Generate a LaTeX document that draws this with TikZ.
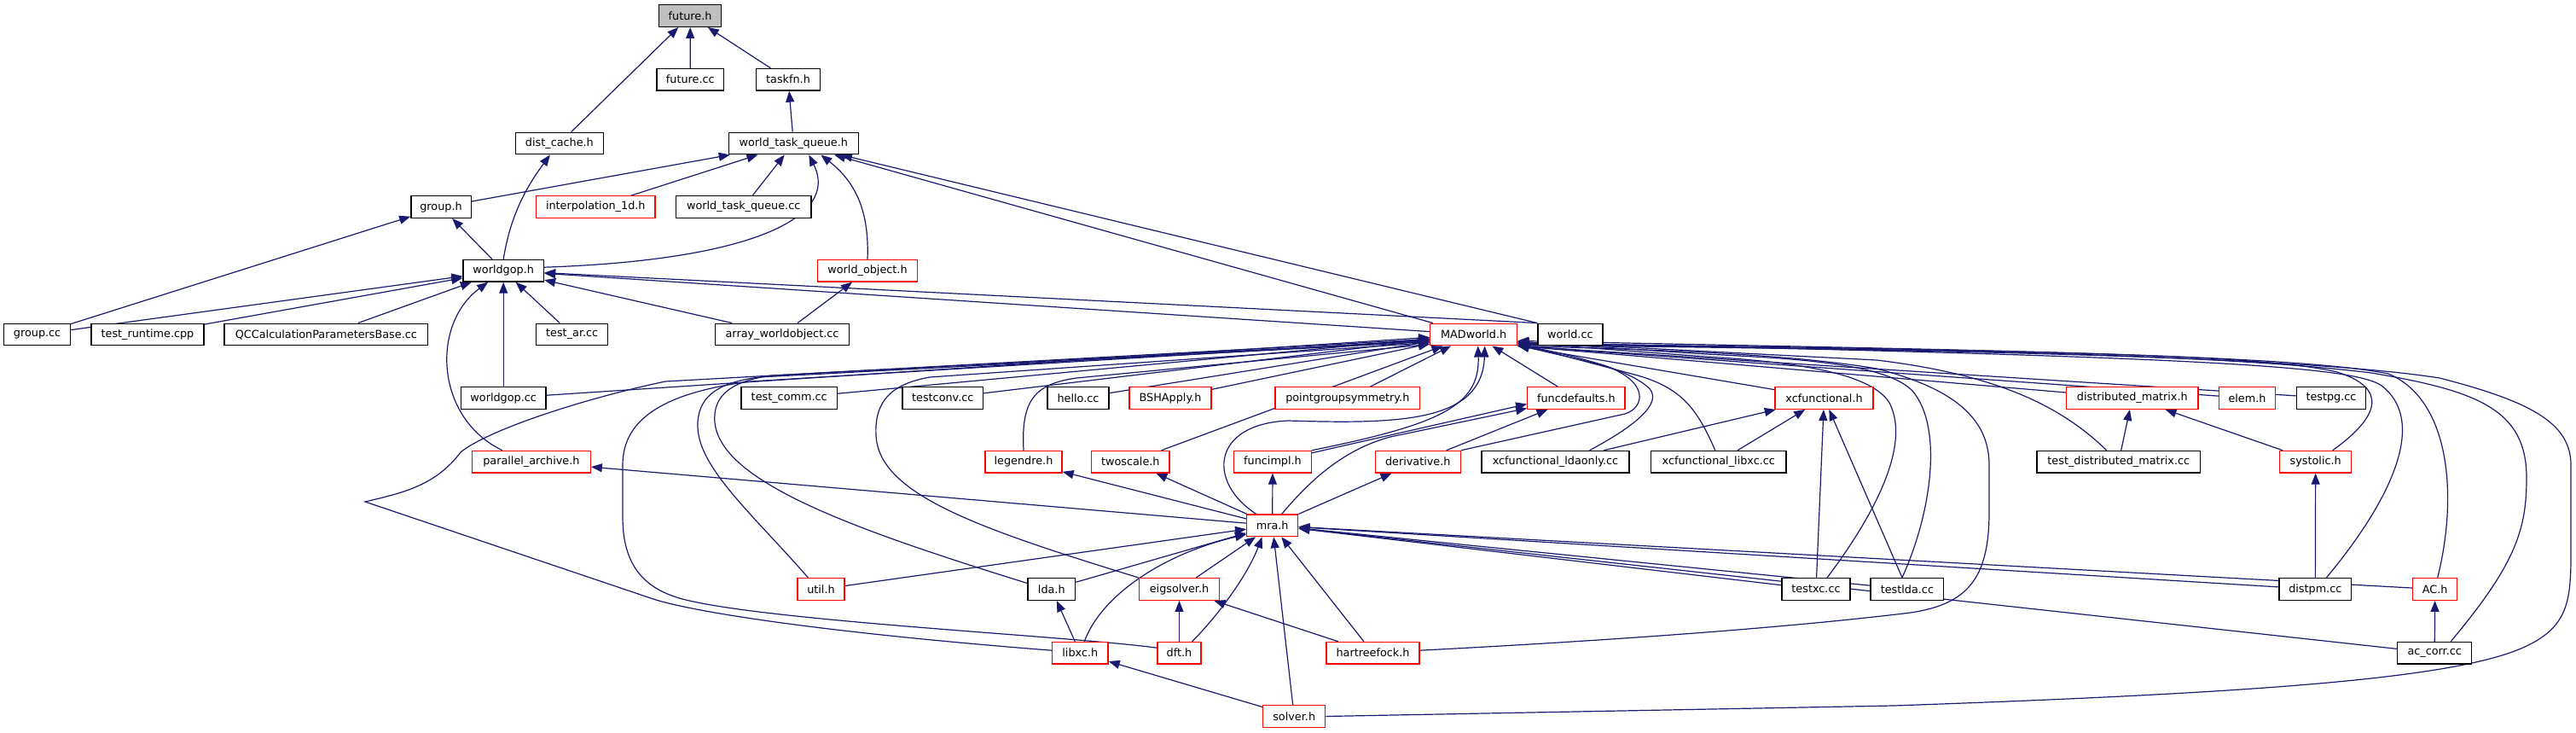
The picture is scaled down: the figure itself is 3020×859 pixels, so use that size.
\documentclass[tikz,border=0pt]{standalone}
\usepackage{fontspec}
\setmainfont{DejaVu Sans}
\usetikzlibrary{arrows.meta,backgrounds}
\definecolor{edgec}{HTML}{191970}
\definecolor{fgray}{HTML}{BFBFBF}
\newcommand\mynode[6]{\node[#1,minimum width=#5pt] (#2) at (#3,#4) {#6};}
\begin{document}
\begin{tikzpicture}[x=1pt,y=-1pt,
 nb/.style={draw=black,line width=1.3pt,fill=white,minimum height=25.6pt,inner sep=0pt,font=\fontsize{12.8}{14}\selectfont},
 nr/.style={nb,draw=red},
 edg/.style={draw=edgec,line width=1.2pt,-{Triangle[length=13pt,width=10pt]}}]
\useasboundingbox (0,0) rectangle (3020,859);
% row 1-5
\mynode{nb,fill=fgray}{fh}{809.1}{18.5}{73.2}{future.h}
\mynode{nb}{fcc}{809.3}{93.2}{78.6}{future.cc}
\mynode{nb}{taskfn}{924}{93.2}{75}{taskfn.h}
\mynode{nb}{distc}{655.9}{168}{102.7}{dist\_cache.h}
\mynode{nb}{wtq}{930.3}{168}{151.7}{world\_task\_queue.h}
\mynode{nb}{grouph}{517}{242.5}{70.3}{group.h}
\mynode{nr}{interp}{698.3}{242.5}{139.3}{interpolation\_1d.h}
\mynode{nb}{wtqcc}{871.7}{242.5}{158.5}{world\_task\_queue.cc}
\mynode{nb}{wgop}{590.2}{317.2}{94.5}{worldgop.h}
\mynode{nr}{wobj}{1017}{317.2}{116.8}{world\_object.h}
% row 6
\mynode{nb}{groupcc}{43.6}{392}{77.6}{group.cc}
\mynode{nb}{trun}{173}{392}{132}{test\_runtime.cpp}
\mynode{nb}{qcc}{382.4}{392}{238.7}{QCCalculationParametersBase.cc}
\mynode{nb}{testar}{670.7}{392}{84}{test\_ar.cc}
\mynode{nb}{awo}{917}{392}{157}{array\_worldobject.cc}
\mynode{nr}{mad}{1727.7}{392}{101.8}{MADworld.h}
\mynode{nb}{worldcc}{1840.9}{392}{76}{world.cc}
% row 7
\mynode{nb}{wgopcc}{590.2}{466.5}{99.3}{worldgop.cc}
\mynode{nb}{tcomm}{925.2}{466.5}{112.4}{test\_comm.cc}
\mynode{nb}{tconv}{1105.3}{466.5}{94.5}{testconv.cc}
\mynode{nb}{hello}{1264}{466.5}{72}{hello.cc}
\mynode{nr}{bsh}{1372}{466.5}{96}{BSHApply.h}
\mynode{nr}{pgs}{1579.8}{466.5}{169.5}{pointgroupsymmetry.h}
\mynode{nr}{fdef}{1847.9}{466.5}{114.3}{funcdefaults.h}
\mynode{nr}{xcf}{2138.5}{466.5}{115}{xcfunctional.h}
\mynode{nr}{dmat}{2499.8}{466.5}{154.4}{distributed\_matrix.h}
\mynode{nr}{elem}{2634.5}{466.5}{65.8}{elem.h}
\mynode{nb}{testpg}{2733}{466.5}{81.2}{testpg.cc}
% row 8
\mynode{nr}{parch}{622.9}{541.2}{138.6}{parallel\_archive.h}
\mynode{nr}{legendre}{1200}{541.2}{90}{legendre.h}
\mynode{nr}{twoscale}{1325.3}{541.2}{91.5}{twoscale.h}
\mynode{nr}{fimpl}{1492}{541.2}{90.6}{funcimpl.h}
\mynode{nr}{deriv}{1662.3}{541.2}{100}{derivative.h}
\mynode{nb}{xclda}{1823.5}{541.2}{173}{xcfunctional\_ldaonly.cc}
\mynode{nb}{xclibxc}{2014.8}{541.2}{158.4}{xcfunctional\_libxc.cc}
\mynode{nb}{tdm}{2483.8}{541.2}{191.8}{test\_distributed\_matrix.cc}
\mynode{nr}{systolic}{2714.7}{541.2}{84}{systolic.h}
% row 9
\mynode{nr}{mra}{1491.7}{615.8}{60}{mra.h}
% row 10
\mynode{nr}{util}{962.5}{690.5}{55}{util.h}
\mynode{nb}{lda}{1232.8}{690.5}{55.6}{lda.h}
\mynode{nr}{eig}{1382.5}{690.5}{93.6}{eigsolver.h}
\mynode{nb}{testxc}{2129}{690.5}{80}{testxc.cc}
\mynode{nb}{testlda}{2235.9}{690.5}{85.7}{testlda.cc}
\mynode{nb}{distpm}{2714.3}{690.5}{84.7}{distpm.cc}
\mynode{nr}{ach}{2854.7}{690.5}{52}{AC.h}
% row 11
\mynode{nr}{libxc}{1266.3}{765.2}{65.5}{libxc.h}
\mynode{nr}{dft}{1382.5}{765.2}{51}{dft.h}
\mynode{nr}{hf}{1609.5}{765.2}{109}{hartreefock.h}
\mynode{nb}{accorr}{2854.2}{765.2}{86.8}{ac\_corr.cc}
% row 12
\mynode{nr}{solver}{1517.2}{839.5}{73}{solver.h}

\begin{pgfonlayer}{background}
\fill[white] (0,0) rectangle (3020,859);
% top part
\draw[edg] (distc) -- (fh);
\draw[edg] (fcc) -- (fh);
\draw[edg] (taskfn) -- (fh);
\draw[edg] (wtq) -- (taskfn);
\draw[edg] (wgop.north) .. controls (598,255) and (615,222) .. ([xshift=-11pt]distc.south);
\draw[edg] (grouph) -- (wtq);
\draw[edg] (interp) -- (wtq);
\draw[edg] (wtqcc) -- (wtq);
\draw[edg] ([yshift=4pt]wgop.east) .. controls (880,305) and (985,255) .. ([xshift=18pt]wtq.south);
\draw[edg] (wobj.north) .. controls (1019,250) and (1005,215) .. ([xshift=32pt]wtq.south);
\draw[edg] (mad) -- (wtq);
\draw[edg] (worldcc.north west) -- (wtq);
\draw[edg] (wgop) -- (grouph);
\draw[edg] (groupcc) -- (grouph);
\draw[edg] (groupcc) -- (wgop);
\draw[edg] (trun) -- (wgop);
\draw[edg] (qcc) -- (wgop);
\draw[edg] (wgopcc) -- (wgop);
\draw[edg] (testar) -- (wgop);
\draw[edg] (awo) -- (wgop);
\draw[edg] (mad) -- (wgop);
\draw[edg] (worldcc.north west) -- (wgop);
\draw[edg] ([xshift=-34pt]parch.north) .. controls (510,490) and (505,380) .. ([xshift=-18pt]wgop.south);
\draw[edg] (awo) -- (wobj);
% into MADworld from the left
\draw[edg] (wgopcc) -- (mad);
\draw[edg] (tcomm) -- (mad);
\draw[edg] (tconv) -- (mad);
\draw[edg] (hello) -- (mad);
\draw[edg] (bsh) -- (mad);
\draw[edg] (twoscale) -- (mad);
\draw[edg] (pgs) -- (mad);
\draw[edg] (fdef) -- (mad);
\draw[edg] (legendre.north) .. controls (1197,470) and (1212,450) .. (1262,443) -- ([yshift=2pt]mad.south west);
\draw[edg] ([xshift=-15pt]util.north) .. controls (880,600) and (815,545) .. (818,495) .. controls (820,462) and (845,448) .. (890,442) -- ([yshift=5pt]mad.south west);
\draw[edg] ([yshift=7pt]lda.west) .. controls (1000,620) and (845,565) .. (838,495) .. controls (835,462) and (860,446) .. (905,440) -- ([yshift=6pt]mad.south west);
\draw[edg] (eig.north west) .. controls (1150,620) and (1030,580) .. (1027,510) .. controls (1025,470) and (1045,450) .. (1090,442) -- ([yshift=4pt]mad.south west);
\draw[edg] ([yshift=3pt]libxc.west) .. controls (950,740) and (800,715) .. (760,700) -- (428,588) .. controls (470,578) and (510,570) .. (540,530) .. controls (570,505) and (680,468) .. (780,447) -- ([yshift=8pt]mad.south west);
\draw[edg] ([yshift=6pt]dft.west) .. controls (1250,745) and (900,728) .. (800,702) .. controls (748,688) and (730,655) .. (730,605) -- (730,545) .. controls (730,490) and (780,460) .. (880,447) -- ([yshift=7pt]mad.south west);
% mra / funcimpl / funcdefaults
\draw[edg] ([xshift=-19pt]mra.north) .. controls (1415,565) and (1420,497) .. (1510,493) .. controls (1640,497) and (1738,495) .. ([xshift=13pt]mad.south);
\draw[edg] (fimpl.north east) .. controls (1690,497) and (1735,475) .. ([xshift=5pt]mad.south);
\draw[edg] ([xshift=11pt]mra.north) .. controls (1530,570) and (1570,528) .. (1630,512) -- ([yshift=-12pt]fdef.west);
\draw[edg] (fimpl) -- ([yshift=-7pt]fdef.west);
\draw[edg] (deriv) -- (fdef);
\draw[edg] (mra) -- (fimpl);
\draw[edg] (mra) -- (deriv);
\draw[edg] (mra) -- (legendre);
\draw[edg] (mra) -- (twoscale);
\draw[edg] (mra) -- (parch);
% into MADworld from the right
\draw[edg] (deriv.north east) -- (1905,485) .. controls (1928,478) and (1935,447) .. (1880,428) -- ([yshift=1pt]mad.south east);
\draw[edg] ([xshift=40pt]xclda.north) .. controls (1925,495) and (1952,468) .. (1930,452) .. controls (1905,432) and (1850,418) .. ([yshift=2pt]mad.south east);
\draw[edg] ([xshift=-4pt]xclibxc.north) .. controls (1990,480) and (1972,455) .. (1920,440) -- ([yshift=3pt]mad.south east);
\draw[edg] (xcf) -- (mad.south east);
\draw[edg] (dmat) -- (mad.south east);
\draw[edg] (elem) -- (mad.south east);
\draw[edg] (testpg) -- (mad.south east);
\draw[edg] ([xshift=13pt]testxc.north) .. controls (2200,600) and (2240,520) .. (2215,472) .. controls (2195,440) and (2120,425) .. (2000,418) -- ([yshift=4pt]mad.south east);
\draw[edg] ([xshift=-6pt]testlda.north) .. controls (2265,600) and (2278,500) .. (2242,458) .. controls (2210,425) and (2100,420) .. (2000,415) -- ([yshift=5pt]mad.south east);
\draw[edg] ([xshift=-14pt]tdm.north) .. controls (2420,480) and (2350,440) .. (2200,422) -- ([yshift=5pt]mad.south east);
\draw[edg] ([xshift=20pt]systolic.north) .. controls (2790,488) and (2800,455) .. (2740,436) .. controls (2650,415) and (2400,412) .. ([yshift=6pt]mad.south east);
\draw[edg] ([xshift=13pt]distpm.north) .. controls (2800,590) and (2848,495) .. (2792,452) .. controls (2760,430) and (2600,418) .. ([yshift=4pt]mad.south east);
\draw[edg] ([xshift=3pt]ach.north) .. controls (2882,580) and (2872,468) .. (2800,438) .. controls (2700,418) and (2400,410) .. ([yshift=3pt]mad.south east);
\draw[edg] ([xshift=19pt]accorr.north) .. controls (2950,660) and (2962,620) .. (2962,560) .. controls (2962,480) and (2905,458) .. (2780,437) .. controls (2600,415) and (2300,410) .. ([yshift=2pt]mad.south east);
\draw[edg] (solver.east) -- (2220,827) .. controls (2650,812) and (2880,795) .. (2960,758) .. controls (3010,735) and (3014,705) .. (3014,650) -- (3014,545) .. controls (3014,495) and (2965,470) .. (2860,443) .. controls (2700,418) and (2300,410) .. ([yshift=1pt]mad.south east);
\draw[edg] ([yshift=3pt]hf.east) .. controls (1900,750) and (2100,735) .. (2240,718) .. controls (2305,708) and (2332,680) .. (2332,600) -- (2332,545) .. controls (2332,490) and (2290,455) .. (2200,432) .. controls (2100,415) and (1950,410) .. (mad.south east);
% into mra
\draw[edg] (util) -- (mra);
\draw[edg] (lda) -- (mra);
\draw[edg] (eig) -- (mra);
\draw[edg] ([xshift=5pt]libxc.north) .. controls (1290,700) and (1360,650) .. ([yshift=3pt]mra.south west);
\draw[edg] ([xshift=15pt]dft.north) .. controls (1420,730) and (1460,680) .. ([xshift=-12pt]mra.south);
\draw[edg] (hf) -- (mra);
\draw[edg] (solver) -- (mra);
\draw[edg] (testxc) -- (mra);
\draw[edg] (testlda) -- (mra);
\draw[edg] (distpm) -- (mra);
\draw[edg] (ach) -- (mra);
\draw[edg] (accorr) -- (mra);
% lower small edges
\draw[edg] (dft) -- (eig);
\draw[edg] (hf) -- (eig);
\draw[edg] (libxc) -- (lda);
\draw[edg] (solver) -- (libxc);
\draw[edg] (testxc) -- (xcf);
\draw[edg] (testlda) -- (xcf);
\draw[edg] (xclda) -- (xcf);
\draw[edg] (xclibxc) -- (xcf);
\draw[edg] (tdm) -- (dmat);
\draw[edg] (systolic) -- (dmat);
\draw[edg] (distpm) -- (systolic);
\draw[edg] (accorr) -- (ach);
\end{pgfonlayer}
\end{tikzpicture}
\end{document}
